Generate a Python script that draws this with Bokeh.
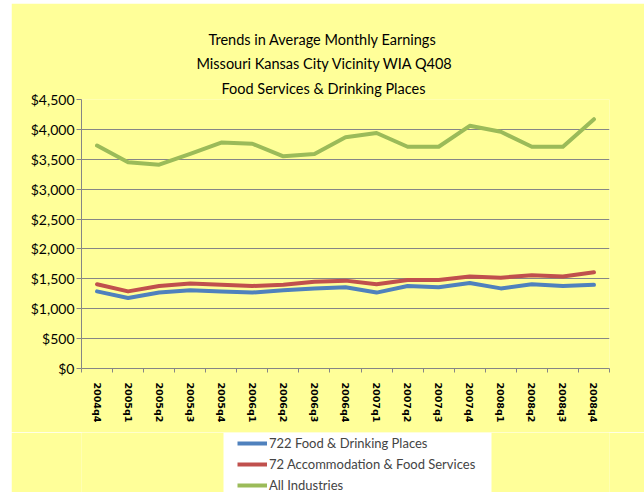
import numpy as np
from bokeh.plotting import figure
from bokeh.layouts import column
from bokeh.models import (Range1d, FixedTicker, Legend, LegendItem, LinearAxis,
                          Title, NumeralTickFormatter, BoxAnnotation)
from bokeh.embed import file_html
from bokeh.resources import INLINE

quarters = ["2004q4", "2005q1", "2005q2", "2005q3", "2005q4", "2006q1", "2006q2",
            "2006q3", "2006q4", "2007q1", "2007q2", "2007q3", "2007q4", "2008q1",
            "2008q2", "2008q3", "2008q4"]
food_drinking = [1290, 1180, 1270, 1310, 1290, 1270, 1310, 1340, 1360, 1270, 1380,
                 1360, 1430, 1340, 1410, 1380, 1400]
accommodation = [1410, 1290, 1380, 1420, 1400, 1380, 1400, 1450, 1470, 1410, 1480,
                 1480, 1540, 1520, 1560, 1540, 1610]
all_industries = [3730, 3450, 3410, 3590, 3780, 3760, 3550, 3590, 3870, 3940, 3710,
                  3710, 4060, 3960, 3710, 3710, 4170]
series_names = ["722 Food & Drinking Places", "72 Accommodation & Food Services",
                "All Industries"]
title_lines = ["Trends in Average Monthly Earnings",
               "Missouri  Kansas City Vicinity WIA Q408",
               "Food Services & Drinking Places"]
y_ticks = list(range(0, 4501, 500))

BG = "#FFFF99"
GRID = "#868686"
FONT = "Lato"
colors = ["#4F81BD", "#C0504D", "#9BBB59"]

n = len(quarters)
xs = [i + 0.5 for i in range(n)]
bounds = list(range(n + 1))

p = figure(width=633, height=429, output_backend="svg", toolbar_location=None,
           x_range=Range1d(0, n), y_range=Range1d(0, 4500),
           background_fill_color=BG, border_fill_color=BG, outline_line_color=None,
           min_border_left=70, min_border_right=35, min_border_top=96,
           min_border_bottom=64)

# x axis: labels at category centres, tick marks between categories
xa = p.below[0]
xa.ticker = FixedTicker(ticks=xs, minor_ticks=bounds)
xa.major_label_overrides = {x: q for x, q in zip(xs, quarters)}
xa.major_label_orientation = -np.pi / 2
xa.major_label_text_font = "DejaVu Sans"
xa.major_label_text_font_style = "bold"
xa.major_label_text_font_size = "9.5px"
xa.major_label_text_color = "black"
xa.major_label_standoff = 10
xa.major_tick_line_color = None
xa.major_tick_out = 0
xa.major_tick_in = 0
xa.minor_tick_line_color = GRID
xa.minor_tick_out = 4
xa.minor_tick_in = 0
xa.axis_line_color = GRID

# y axis
ya = p.left[0]
ya.ticker = FixedTicker(ticks=y_ticks)
ya.formatter = NumeralTickFormatter(format="$0,0")
ya.major_label_text_font = FONT
ya.major_label_text_font_size = "14px"
ya.major_label_text_color = "black"
ya.axis_line_color = GRID
ya.major_tick_line_color = GRID
ya.major_tick_out = 5
ya.major_tick_in = 0
ya.minor_tick_line_color = None
ya.major_label_standoff = 2

p.ygrid.grid_line_color = GRID
p.ygrid.grid_line_width = 1
p.xgrid.grid_line_color = None

# spacer between plot and titles
spacer = LinearAxis(ticker=FixedTicker(ticks=[]), axis_line_color=None,
                    major_tick_line_color=BG, minor_tick_line_color=None,
                    major_tick_out=7, major_tick_in=0, minor_tick_out=0,
                    major_label_standoff=0)
p.add_layout(spacer, "above")

# titles (first added is closest to the plot); left-aligned with offsets
offsets = [140, 115, 127]
standoffs = [6, 6, 4]
for line, off, so in zip(reversed(title_lines), offsets, standoffs):
    t = Title(text=line, align="left", offset=off, text_font=FONT,
              text_font_size="14.5px", text_font_style="normal",
              text_color="black", standoff=so)
    p.add_layout(t, "above")

for vals, c in zip([food_drinking, accommodation, all_industries], colors):
    p.line(xs, vals, line_width=4, line_color=c, line_join="round", line_cap="round")

# legend strip below the chart (its frame is aligned with the chart's frame: 81..609)
p2 = figure(width=633, height=60, output_backend="svg", toolbar_location=None,
            x_range=Range1d(81, 609), y_range=Range1d(0, 60),
            x_axis_location=None, y_axis_location=None,
            background_fill_color=BG, border_fill_color=BG, outline_line_color=None,
            min_border=0)
p2.grid.visible = False
p2.add_layout(BoxAnnotation(left=223, right=491, bottom=0, top=60,
                            fill_color="white", fill_alpha=1, line_color=None))
items = []
for c, name in zip(colors, series_names):
    r = p2.line(x=[np.nan], y=[np.nan], line_width=4, line_color=c)
    items.append(LegendItem(label=name, renderers=[r]))
legend = Legend(items=items, location=(156, -3),
                label_text_font=FONT, label_text_font_size="13px",
                glyph_width=30, glyph_height=20, label_height=20, spacing=1,
                padding=2, margin=0, label_standoff=2,
                background_fill_color="white", background_fill_alpha=1,
                border_line_color=None)
p2.add_layout(legend, "center")

layout = column(p, p2, spacing=0)
layout.margin = (3, 0, 0, 11)
open("out.html", "w").write(file_html(layout, INLINE))
